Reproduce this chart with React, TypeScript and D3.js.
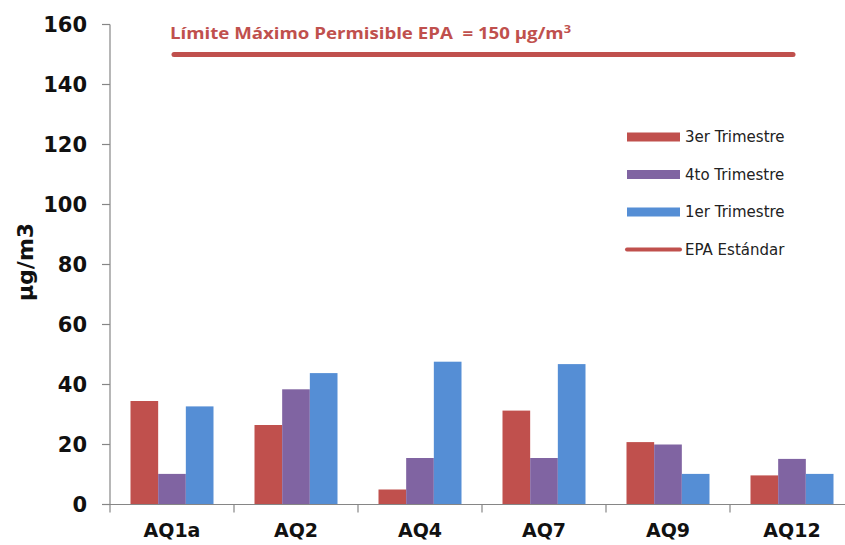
import React from "react";
import * as d3 from "d3";

const categories = ["AQ1a", "AQ2", "AQ4", "AQ7", "AQ9", "AQ12"];
const seriesNames = ["3er Trimestre", "4to Trimestre", "1er Trimestre"];
const q3 = [34.5, 26.5, 5, 31.3, 20.8, 9.7];
const q4 = [10.2, 38.4, 15.5, 15.5, 20, 15.2];
const q1 = [32.7, 43.8, 47.6, 46.8, 10.2, 10.2];
const epaLimit = 150;
const yTicks = [0, 20, 40, 60, 80, 100, 120, 140, 160];
const colors = ["#C0504D", "#8064A2", "#558ED5"];

export default function App() {
  const W = 845, H = 545;
  const x0 = 110, yBottom = 504.5, yTop = 24.5;
  const bandW = 124;
  const x = d3.scaleBand<string>().domain(categories).range([x0, x0 + bandW * categories.length]).paddingInner(0).paddingOuter(0);
  const y = d3.scaleLinear().domain([0, 160]).range([yBottom, yTop]);
  const groupW = 83;
  const xs = d3.scaleBand<number>().domain([0, 1, 2]).range([0, groupW]).padding(0);
  const series = [q3, q4, q1];
  const font = "'Century Gothic', 'URW Gothic', 'DejaVu Sans', sans-serif";
  return (
    <svg width={W} height={H} style={{ position: "absolute", left: 0, top: 0, background: "#fff" }}>
      {categories.map((c, i) => (
        <g key={c} transform={`translate(${(x(c) as number) + (bandW - groupW) / 2},0)`}>
          {series.map((s, k) => (
            <rect key={k} x={xs(k)} y={y(s[i])} width={xs.bandwidth()} height={yBottom - y(s[i])} fill={colors[k]} />
          ))}
        </g>
      ))}
      <line x1={x0} x2={x0} y1={yTop} y2={yBottom} stroke="#868686" strokeWidth={1.2} />
      {yTicks.map((t) => (
        <g key={t}>
          <line x1={x0 - 8} x2={x0} y1={y(t)} y2={y(t)} stroke="#868686" strokeWidth={1.2} />
          <text x={87} y={y(t)} dy="0.35em" textAnchor="end" fontFamily={font} fontSize={21} fontWeight="bold" fill="#111">{t}</text>
        </g>
      ))}
      <line x1={x0} x2={W} y1={yBottom} y2={yBottom} stroke="#868686" strokeWidth={1.2} />
      {categories.map((c) => (
        <g key={c}>
          <line x1={(x(c) as number)} x2={(x(c) as number)} y1={yBottom} y2={yBottom + 8} stroke="#868686" strokeWidth={1.2} />
          <text x={(x(c) as number) + bandW / 2} y={537} textAnchor="middle" fontFamily={font} fontSize={19} fontWeight="bold" fill="#111">{c}</text>
        </g>
      ))}
      <line x1={x0 + bandW * 6} x2={x0 + bandW * 6} y1={yBottom} y2={yBottom + 8} stroke="#868686" strokeWidth={1.2} />
      <text transform={`translate(33,262) rotate(-90)`} textAnchor="middle" fontFamily={font} fontSize={22} fontWeight="bold" fill="#111">µg/m3</text>
      <line x1={174} x2={793} y1={y(epaLimit)} y2={y(epaLimit)} stroke={colors[0]} strokeWidth={5} strokeLinecap="round" />
      <text x={170} y={39} style={{ whiteSpace: "pre" }} fontFamily="'Open Sans', 'Liberation Sans', sans-serif" fontSize={16} fontWeight="bold" fill={colors[0]} textLength={401} lengthAdjust="spacingAndGlyphs">
        {"Límite Máximo Permisible EPA  = 150 µg/m"}<tspan dy={-6} fontSize={11}>3</tspan>
      </text>
      {seriesNames.map((n, k) => (
        <g key={n} transform={`translate(627,${137 + k * 37.5})`}>
          <rect x={0} y={-4.5} width={53} height={9} fill={colors[k]} />
          <text x={58} y={0} dy="0.35em" fontFamily={font} fontSize={15} fill="#222">{n}</text>
        </g>
      ))}
      <g transform={`translate(627,${137 + 3 * 37.5})`}>
        <line x1={0} x2={53} y1={0} y2={0} stroke={colors[0]} strokeWidth={4} strokeLinecap="round" />
        <text x={58} y={0} dy="0.35em" fontFamily={font} fontSize={15} fill="#222">EPA Estándar</text>
      </g>
    </svg>
  );
}
